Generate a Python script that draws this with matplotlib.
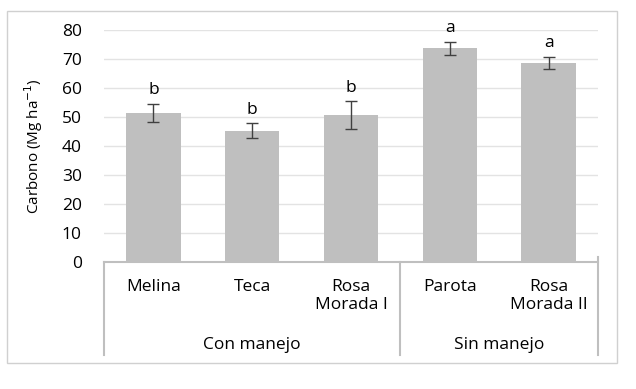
import matplotlib
matplotlib.use("Agg")
import matplotlib.pyplot as plt
from matplotlib.patches import Rectangle
import matplotlib.transforms as mtransforms

categories = ["Melina", "Teca", "Rosa\nMorada I", "Parota", "Rosa\nMorada II"]
values = [51.5, 45.3, 50.7, 73.7, 68.7]
errors = [3.1, 2.5, 4.7, 2.2, 2.0]
letters = ["b", "b", "b", "a", "a"]
groups = ["Con manejo", "Sin manejo"]
group_spans = [(0, 2), (3, 4)]
yticks = [0, 10, 20, 30, 40, 50, 60, 70, 80]

plt.rcParams['font.family'] = ['Open Sans', 'DejaVu Sans']

W, H = 636, 389
fig = plt.figure(figsize=(W / 100, H / 100), dpi=100)

# outer frame
fig.patches.append(Rectangle((7 / W, 1 - 363 / H), 610 / W, (363 - 11) / H,
                             transform=fig.transFigure, fill=False,
                             edgecolor="#d0d0d0", linewidth=1.0))

left, right = 104 / W, 598 / W
bottom, top = 1 - 262 / H, 1 - 30 / H
ax = fig.add_axes([left, bottom, right - left, top - bottom])

x = list(range(len(categories)))
ax.bar(x, values, width=0.55, color="#bfbfbf", zorder=2)
ax.errorbar(x, values, yerr=errors, fmt="none", ecolor="#404040",
            elinewidth=1.0, capsize=4, capthick=1.0, zorder=3)
for xi, v, e, l in zip(x, values, errors, letters):
    ax.text(xi, v + e + 2.0, l, ha="center", va="bottom", fontsize=12.5,
            color="#000000")

ax.set_xlim(-0.5, len(categories) - 0.5)
ax.set_ylim(0, 80)
ax.set_yticks(yticks)
ax.tick_params(axis="y", length=0, labelsize=12.5, pad=16)
ax.set_xticks([])
ax.grid(axis="y", color="#e3e3e3", linewidth=1.0, zorder=0)
ax.set_axisbelow(True)
for s in ["top", "right", "left"]:
    ax.spines[s].set_visible(False)
ax.spines["bottom"].set_color("#bfbfbf")
ax.spines["bottom"].set_linewidth(1.5)
ax.set_ylabel("Carbono (Mg ha$^{-1}$)", fontsize=11)
ax.yaxis.set_label_coords((45 - 104) / 494, (262 - 146) / 232)

trans = mtransforms.blended_transform_factory(ax.transData, ax.transAxes)
lower = (262 - 355) / 232
for xi, c in zip(x, categories):
    ax.text(xi, -0.072, c, transform=trans, ha="center", va="top",
            fontsize=12.5, linespacing=1.2)
seps = [-0.5, 2.5, len(categories) - 0.5]
for sx in seps:
    top_y = 0.02 if sx == seps[-1] else 0
    ax.plot([sx, sx], [top_y, lower], transform=trans, color="#bfbfbf",
            linewidth=1.5, clip_on=False)
for g, (a, b) in zip(groups, group_spans):
    ax.text((a + b) / 2, (262 - 345) / 232, g, transform=trans, ha="center",
            va="center", fontsize=12.5)

fig.savefig("out.png", dpi=100)
